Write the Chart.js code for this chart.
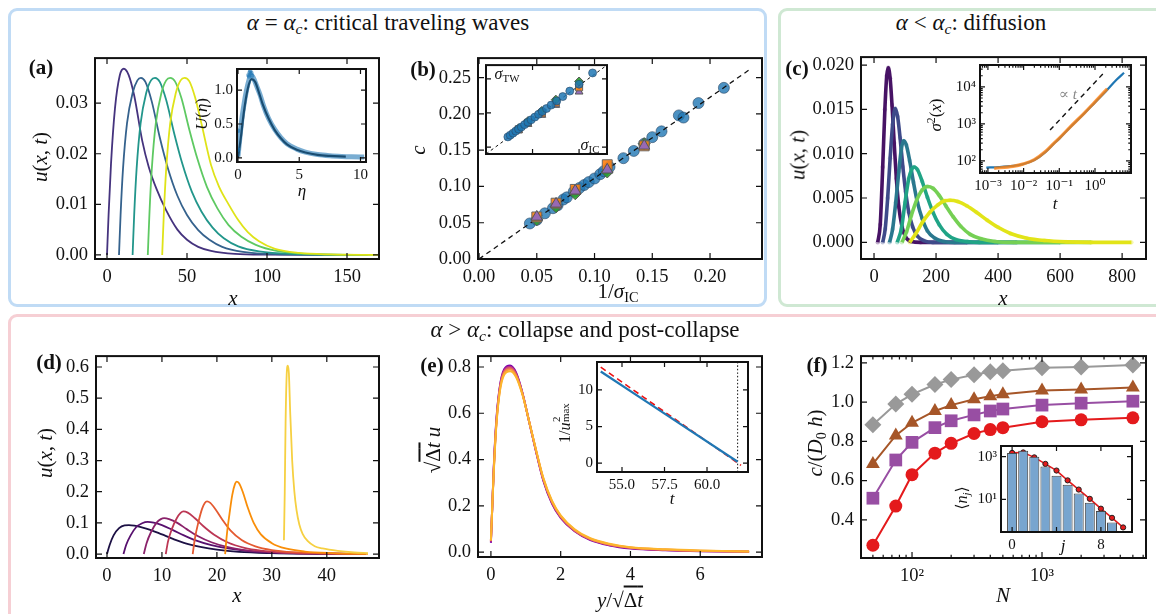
<!DOCTYPE html>
<html>
<head>
<meta charset="utf-8">
<script src="https://cdn.jsdelivr.net/npm/chart.js@4.4.1/dist/chart.umd.min.js"></script>
<style>
body { margin: 0; background: #fff; }
#fig { position: relative; width: 1156px; height: 614px; overflow: hidden; background: #fff;
  font-family: 'Liberation Serif', 'DejaVu Serif', serif; color: #111; }
.box { position: absolute; border: 3px solid; border-radius: 9px; box-sizing: border-box; }
canvas { position: absolute; }
.t { position: absolute; white-space: nowrap; line-height: 1; transform: translate(-50%, -50%); }
.t.r { transform: translate(-50%, -50%) rotate(-90deg); }
.t.b { font-weight: bold; }
sub { font-size: 68%; vertical-align: -0.3em; line-height: 0; }
sup { font-size: 68%; vertical-align: 0.45em; line-height: 0; }
.ss { position: relative; display: inline-block; width: 1.6em; height: 1em; }
.ss .u { position: absolute; left: 0.05em; top: -0.3em; font-size: 68%; }
.ss .d { position: absolute; left: 0.05em; top: 0.55em; font-size: 68%; }
.ov { text-decoration: overline; }
</style>
</head>
<body>
<div id="fig">
  <div class="box" style="left:8px;top:8px;width:759px;height:299px;border-color:#c0dbf5"></div>
  <div class="box" style="left:778px;top:8px;width:400px;height:299px;border-color:#cfe8d3"></div>
  <div class="box" style="left:8px;top:314px;width:1170px;height:330px;border-color:#f6cfd4"></div>
</div>
<script>
// ---- (a) critical traveling waves
const aColors = ['#45337e', '#35628d', '#22968b', '#5ec962', '#dfe318'];
const aCurves = [
  [[0,0],[1,0.008],[2.5,0.018],[5,0.029],[8,0.0355],[10.5,0.0368],[13.5,0.0356],[17,0.0315],[22,0.0226],[26,0.0175],[31,0.013],[37,0.0088],[44,0.005],[50,0.003],[57,0.0016],[65,0.0008],[80,0.0002],[100,0.00005],[155,0]],
  [[7.5,0],[8.5,0.008],[10,0.017],[12.5,0.026],[16,0.032],[19,0.0345],[21.2,0.035],[24,0.0342],[28,0.0303],[33,0.0232],[38,0.0172],[44,0.0117],[50,0.0079],[57,0.0049],[64,0.003],[72,0.0016],[85,0.0006],[105,0.00015],[160,0]],
  [[16,0],[17,0.008],[18.5,0.017],[21,0.026],[24.5,0.032],[27.5,0.0345],[30,0.035],[33,0.0342],[37,0.0306],[42,0.024],[47,0.0181],[53,0.0125],[59,0.0086],[66,0.0054],[73,0.0033],[82,0.0017],[95,0.0007],[115,0.0002],[163,0]],
  [[25.5,0],[26.5,0.008],[28,0.017],[30.5,0.026],[34,0.032],[37,0.0345],[39.5,0.035],[42.5,0.0343],[46.5,0.031],[51.5,0.0247],[56.5,0.019],[62.5,0.0134],[69,0.0092],[76,0.0059],[84,0.0036],[93,0.002],[106,0.0008],[125,0.0002],[167,0]],
  [[34.5,0],[35.5,0.008],[37,0.017],[39.5,0.026],[43,0.032],[46,0.0345],[48.5,0.035],[51.5,0.0343],[55,0.0312],[59,0.026],[65,0.0178],[70,0.0135],[76,0.01],[82,0.0069],[88,0.0045],[95,0.0027],[105,0.0012],[120,0.0004],[140,0.0001],[170,0]]
];
const aXTicks = [0, 50, 100, 150];
const aYTicks = [0, 0.01, 0.02, 0.03];
const aInsetFit = [[0,0],[0.2,0.25],[0.5,0.7],[0.8,1.02],[1.1,1.16],[1.4,1.12],[1.7,0.97],[2.0,0.8],[2.5,0.58],[3.0,0.41],[3.5,0.29],[4.0,0.2],[4.8,0.12],[5.5,0.08],[6.5,0.045],[7.5,0.03],[8.8,0.02]];
const aInsetData = [[0,0.02],[0.1,0.2],[0.3,0.55],[0.5,0.8],[0.7,1.0],[0.9,1.15],[1.05,1.22],[1.25,1.18],[1.5,1.07],[1.8,0.93],[2.1,0.76],[2.5,0.58],[3.0,0.42],[3.5,0.3],[4.0,0.21],[4.8,0.13],[5.5,0.085],[6.5,0.05],[7.5,0.032],[8.5,0.022],[9.3,0.017],[10.3,0.013]];
const aInsetNoise = [[0.02,0.12],[0.03,0.4],[0.85,1.22],[0.95,1.26],[1.0,1.28],[1.1,1.25],[1.15,1.21],[0.9,1.2]];
const aInsetXTicks = [0, 5, 10];
const aInsetYTicks = [0, 0.5, 1.0];

// ---- (b) speed vs 1/sigma_IC
const bCircles = [[0.044,0.049],[0.050,0.054],[0.057,0.063],[0.064,0.070],[0.068,0.074],[0.073,0.082],[0.076,0.085],[0.082,0.093],[0.087,0.098],[0.091,0.102],[0.095,0.106],[0.100,0.111],[0.105,0.117],[0.108,0.121],[0.113,0.127],[0.125,0.139],[0.134,0.149],[0.143,0.159],[0.150,0.168],[0.158,0.176],[0.173,0.198],[0.177,0.195],[0.190,0.215],[0.212,0.236]];
const bSquares = [[0.05,0.058],[0.0667,0.077],[0.0833,0.096],[0.111,0.130],[0.143,0.156]];
const bDiamonds = [[0.05,0.054],[0.0667,0.072],[0.0833,0.090],[0.111,0.120],[0.143,0.159]];
const bTriangles = [[0.05,0.058],[0.0667,0.076],[0.0833,0.094],[0.111,0.123],[0.143,0.156]];
const bGuide = [[0,0],[0.235,0.262]];
const bXTicks = [0, 0.05, 0.10, 0.15, 0.20];
const bYTicks = [0, 0.05, 0.10, 0.15, 0.20, 0.25];
const bInsetCircles = [[4.7,5.0],[5.2,5.5],[5.8,6.1],[6.4,6.7],[7.0,7.3],[7.6,7.9],[8.3,8.6],[9.0,9.3],[9.7,10.0],[10.5,10.8],[11.3,11.6],[12.1,12.4],[13.0,13.3],[14.0,14.3],[15.2,15.5],[16.5,16.8],[18.0,18.4],[20.0,20.4],[22.9,23.7]];
const bInsetDiamonds = [[7,7.5],[9,9.6],[12,12.6],[15,15.9],[20,21.2]];
const bInsetSquares = [[7,7.2],[9,9.1],[12,11.9],[15,15.0],[20,19.5]];
const bInsetTriangles = [[7,6.9],[9,8.7],[12,11.4],[15,14.3],[20,18.2]];
const bInsetGuide = [[0,0],[26,26]];
const bInsetXTicks = [0, 10, 20];
const bInsetYTicks = [2, 12, 22];

// ---- (c) diffusion
const cColors = ['#471365', '#3e4a89', '#2a788e', '#20a486', '#75d054', '#e2e418'];
const cCurves = [
  [[12,0],[20,0.002],[28,0.0085],[35,0.015],[41,0.0188],[46,0.0197],[52,0.0185],[58,0.0155],[65,0.0112],[72,0.0072],[80,0.004],[90,0.0018],[102,0.0006],[120,0.0001],[150,0],[300,0]],
  [[28,0],[36,0.0015],[44,0.005],[52,0.0095],[60,0.0133],[68,0.0151],[76,0.0142],[84,0.0118],[93,0.0085],[102,0.0057],[112,0.0034],[125,0.0017],[140,0.0007],[160,0.0002],[190,0],[400,0]],
  [[50,0],[60,0.0015],[70,0.0045],[80,0.008],[88,0.0105],[95,0.01145],[104,0.011],[115,0.0092],[127,0.0068],[140,0.0045],[155,0.0027],[172,0.0013],[195,0.0005],[225,0.0001],[260,0],[460,0]],
  [[75,0],[88,0.0015],[100,0.0045],[112,0.0072],[121,0.0082],[129,0.0085],[140,0.0082],[155,0.0069],[172,0.0051],[190,0.0034],[210,0.002],[235,0.0009],[265,0.0003],[300,0.0001],[340,0],[600,0]],
  [[90,0],[105,0.0012],[120,0.003],[138,0.0048],[155,0.0059],[172,0.0063],[190,0.0061],[210,0.0053],[232,0.0041],[255,0.0029],[280,0.0018],[310,0.0009],[345,0.0004],[390,0.0001],[450,0],[700,0]],
  [[115,0],[135,0.001],[155,0.0022],[180,0.0034],[205,0.0042],[228,0.0047],[245,0.00475],[270,0.0046],[300,0.0041],[330,0.0034],[365,0.0025],[400,0.0017],[440,0.001],[490,0.0005],[550,0.0002],[620,0.00005],[700,0],[830,0]]
];
const cXTicks = [0, 200, 400, 600, 800];
const cYTicks = [0, 0.005, 0.010, 0.015, 0.020];
const cInsetBlue = [[0.0009,66],[0.002,68],[0.005,73],[0.01,82],[0.02,105],[0.04,170],[0.07,290],[0.1,400],[0.2,800],[0.5,1900],[1,3800],[2,7500],[4,15500],[6.5,24000]];
const cInsetOrange = [[0.0015,63],[0.005,71],[0.01,83],[0.02,108],[0.04,176],[0.07,298],[0.1,412],[0.2,820],[0.5,1960],[1,3950],[2.2,8800]];
const cInsetGuide = [[0.055,680],[1.9,25700]];
const cInsetXTicks = [1e-3, 1e-2, 1e-1, 1, 10];
const cInsetXLabels = ['10\u207B\u00B3', '10\u207B\u00B2', '10\u207B\u00B9', '10\u2070', ''];
const cInsetYTicks = [1e2, 1e3, 1e4];
const cInsetYLabels = ['10\u00B2', '10\u00B3', '10\u2074'];

// ---- (d) collapse
const dColors = ['#1c1044', '#57106e', '#8a226a', '#bc3754', '#e45a31', '#f98e09', '#f6d042'];
const dCurves = [
  [[0,0],[0.5,0.03],[1.2,0.06],[2.2,0.083],[3.2,0.092],[4,0.093],[5,0.091],[6.5,0.085],[8,0.077],[10,0.063],[12,0.049],[14,0.036],[17,0.023],[20,0.014],[24,0.007],[30,0.003],[38,0.001],[47,0]],
  [[3,0],[3.5,0.03],[4.3,0.06],[5.3,0.086],[6.4,0.099],[7.4,0.1035],[8.5,0.101],[10,0.093],[12,0.077],[14,0.06],[16,0.045],[19,0.029],[22,0.018],[26,0.009],[31,0.004],[38,0.0015],[47,0]],
  [[6.7,0],[7.2,0.035],[8,0.07],[9,0.1],[9.8,0.112],[10.4,0.115],[11.3,0.112],[12.8,0.1],[14.5,0.08],[16.5,0.058],[19,0.038],[22,0.022],[25,0.013],[29,0.007],[34,0.003],[40,0.001],[47,0]],
  [[10.7,0],[11.1,0.04],[11.8,0.08],[12.7,0.115],[13.4,0.132],[13.9,0.137],[14.7,0.133],[16,0.115],[17.5,0.09],[19.5,0.062],[22,0.037],[25,0.02],[28,0.011],[32,0.005],[38,0.002],[47,0]],
  [[15.6,0],[16,0.05],[16.6,0.1],[17.3,0.145],[17.8,0.164],[18.2,0.169],[18.8,0.164],[19.8,0.142],[21,0.11],[22.5,0.075],[24.5,0.045],[27,0.025],[30,0.013],[34,0.006],[40,0.002],[47,0]],
  [[21.5,0],[21.8,0.06],[22.3,0.13],[22.8,0.19],[23.3,0.225],[23.6,0.2325],[24,0.228],[24.7,0.2],[25.6,0.15],[26.7,0.1],[28,0.063],[30,0.035],[32.5,0.018],[36,0.008],[41,0.003],[47.5,0.0005]],
  [[32.2,0.044],[32.35,0.2],[32.5,0.42],[32.7,0.575],[32.9,0.604],[33.1,0.58],[33.35,0.45],[33.7,0.3],[34.1,0.2],[34.5,0.14],[35,0.095],[35.6,0.065],[36.5,0.042],[37.8,0.025],[39.2,0.018],[42,0.01],[45,0.005],[47.5,0.003]]
];
const dXTicks = [0, 10, 20, 30, 40];
const dYTicks = [0, 0.1, 0.2, 0.3, 0.4, 0.5, 0.6];

// ---- (e) rescaled profiles
const eColors = ['#7e03a8', '#b52f8c', '#de5f65', '#f89540', '#fdb52c'];
const eCurves = [
  [[0,0.04],[0.04,0.2],[0.08,0.36],[0.15,0.56],[0.25,0.71],[0.38,0.79],[0.55,0.806],[0.72,0.776],[0.9,0.69],[1.1,0.56],[1.3,0.43],[1.5,0.31],[1.75,0.21],[2,0.148],[2.4,0.09],[2.85,0.052],[3.4,0.029],[4,0.016],[5,0.008],[6,0.004],[7.4,0.002]],
  [[0,0.045],[0.04,0.2],[0.08,0.355],[0.15,0.55],[0.25,0.705],[0.38,0.785],[0.55,0.801],[0.72,0.772],[0.9,0.69],[1.1,0.561],[1.3,0.432],[1.5,0.313],[1.75,0.213],[2,0.15],[2.4,0.092],[2.85,0.054],[3.4,0.031],[4,0.018],[5,0.009],[6,0.005],[7.4,0.002]],
  [[0,0.05],[0.04,0.2],[0.08,0.35],[0.15,0.545],[0.25,0.7],[0.38,0.78],[0.55,0.796],[0.72,0.768],[0.9,0.688],[1.1,0.562],[1.3,0.434],[1.5,0.316],[1.75,0.216],[2,0.153],[2.4,0.094],[2.85,0.056],[3.4,0.032],[4,0.019],[5,0.01],[6,0.005],[7.4,0.002]],
  [[0,0.05],[0.04,0.2],[0.08,0.345],[0.15,0.54],[0.25,0.694],[0.38,0.773],[0.55,0.789],[0.72,0.762],[0.9,0.685],[1.1,0.562],[1.3,0.436],[1.5,0.319],[1.75,0.219],[2,0.156],[2.4,0.096],[2.85,0.058],[3.4,0.034],[4,0.02],[5,0.011],[6,0.006],[7.4,0.003]],
  [[0,0.05],[0.04,0.2],[0.08,0.34],[0.15,0.535],[0.25,0.688],[0.38,0.766],[0.55,0.782],[0.72,0.757],[0.9,0.682],[1.1,0.562],[1.3,0.438],[1.5,0.322],[1.75,0.222],[2,0.159],[2.4,0.099],[2.85,0.06],[3.4,0.036],[4,0.021],[5,0.012],[6,0.007],[7.4,0.003]]
];
const eXTicks = [0, 2, 4, 6];
const eYTicks = [0, 0.2, 0.4, 0.6, 0.8];
const eInsetData = [[53.75,12.5],[61.8,0.2]];
const eInsetFit = [[53.75,13.1],[62.0,-0.3]];
const eInsetBlowup = [[61.8,-1.2],[61.8,13.8]];
const eInsetXTicks = [55.0, 57.5, 60.0];
const eInsetYTicks = [0, 5, 10];

// ---- (f) front speed vs N
const fN = [50, 75, 100, 150, 200, 300, 400, 500, 1000, 2000, 5000];
const fGray = [0.885, 0.99, 1.04, 1.09, 1.115, 1.14, 1.155, 1.16, 1.175, 1.18, 1.19];
const fBrown = [0.685, 0.83, 0.895, 0.955, 0.985, 1.015, 1.03, 1.04, 1.06, 1.065, 1.075];
const fPurple = [0.51, 0.705, 0.795, 0.87, 0.905, 0.935, 0.955, 0.965, 0.985, 0.995, 1.005];
const fRed = [0.27, 0.47, 0.63, 0.74, 0.79, 0.84, 0.86, 0.87, 0.9, 0.91, 0.92];
const fXTicks = [100, 1000];
const fXLabels = ['10\u00B2', '10\u00B3'];
const fYTicks = [0.4, 0.6, 0.8, 1.0, 1.2];
const fJ = [0, 1, 2, 3, 4, 5, 6, 7, 8, 9];
const fCounts = [1500, 1900, 1000, 350, 130, 49, 19, 7, 2.9, 0.83];
const fJFit = [0, 1, 2, 3, 4, 5, 6, 7, 8, 9, 10];
const fCountsFit = [1510, 1580, 930, 460, 225, 78, 29, 10.7, 3.7, 1.38, 0.49];
const fInsetXTicks = [0, 4, 8];
const fInsetXLabels = ['0', '', '8'];
const fInsetYTicks = [10, 1000];
const fInsetYLabels = ['10\u00B9', '10\u00B3'];

// ---------------------------------------------------------------
const fig = document.getElementById('fig');
const SERIF = "'Liberation Serif','DejaVu Serif',serif";
Chart.defaults.font.family = SERIF;
Chart.defaults.color = '#111';

const pts = a => a.map(p => ({x: p[0], y: p[1]}));
const xy = (xs, ys) => xs.map((x, i) => [x, ys[i]]);
const minorLog = (lo, hi) => {
  const out = [];
  for (let e = lo; e <= hi; e++) for (let k = 2; k <= 9; k++) out.push(k * Math.pow(10, e));
  return out;
};

function axis(o) {
  return {
    type: o.type || 'linear', min: o.min, max: o.max, offset: false,
    grid: {display: false, drawTicks: false, tickLength: 0}, border: {display: false},
    afterBuildTicks: s => { s.ticks = o.ticks.map(v => ({value: v})); },
    ticks: {
      autoSkip: false, maxRotation: 0, minRotation: 0, padding: o.pad || 7,
      font: {size: o.size || 18.5}, color: '#111',
      callback: (v, i) => o.labels ? o.labels[i] : v.toFixed(o.dec)
    }
  };
}

const frame = {
  id: 'frame',
  beforeDraw(ch, args, o) {
    if (!o.fill) return;
    const c = ch.ctx, r = ch.chartArea;
    c.save(); c.fillStyle = '#fff'; c.fillRect(r.left, r.top, r.width, r.height); c.restore();
  },
  afterDraw(ch, args, o) {
    const c = ch.ctx, r = ch.chartArea, sx = ch.scales.x, sy = ch.scales.y;
    c.save();
    c.strokeStyle = '#111';
    c.lineWidth = 1.2;
    c.beginPath();
    const mark = (vals, len, sc, hor) => vals.forEach(v => {
      const p = sc.getPixelForValue(v);
      if (hor) {
        if (p < r.left - 0.5 || p > r.right + 0.5) return;
        c.moveTo(p, r.bottom); c.lineTo(p, r.bottom - len);
        c.moveTo(p, r.top); c.lineTo(p, r.top + len);
      } else {
        if (p < r.top - 0.5 || p > r.bottom + 0.5) return;
        c.moveTo(r.left, p); c.lineTo(r.left + len, p);
        c.moveTo(r.right, p); c.lineTo(r.right - len, p);
      }
    });
    const L = o.len || 6;
    mark(o.xt || [], L, sx, true); mark(o.xm || [], L * 0.55, sx, true);
    mark(o.yt || [], L, sy, false); mark(o.ym || [], L * 0.55, sy, false);
    c.stroke();
    c.lineWidth = o.lw || 2;
    c.strokeRect(r.left, r.top, r.width, r.height);
    c.restore();
  }
};

function plot(box, pad, type, datasets, sx, sy, fr) {
  const l = box[0], t = box[1], r = box[2], b = box[3];
  const pl = pad[0], pb = pad[1], pt = 14, pr = 14;
  const cv = document.createElement('canvas');
  const w = r - l + pl + pr, h = b - t + pt + pb;
  cv.width = w; cv.height = h;
  cv.style.left = (l - pl) + 'px'; cv.style.top = (t - pt) + 'px';
  cv.style.width = w + 'px'; cv.style.height = h + 'px';
  fig.appendChild(cv);
  sx.position = 'bottom'; sy.position = 'left';
  sx.afterFit = s => { s.height = pb; };
  sy.afterFit = s => { s.width = pl; };
  datasets.forEach((d, i) => { if (d.order === undefined) d.order = -i; });
  return new Chart(cv, {
    type: type,
    data: {datasets: datasets},
    plugins: [frame],
    options: {
      responsive: false, animation: false, devicePixelRatio: 1,
      layout: {padding: {left: 0, top: pt, right: pr, bottom: 0}},
      scales: {x: sx, y: sy},
      plugins: {legend: {display: false}, tooltip: {enabled: false}, frame: fr},
      elements: {point: {radius: 0}, line: {cubicInterpolationMode: 'monotone'}}
    }
  });
}

const line = (data, color, w, extra) => Object.assign({
  type: 'line', data: pts(data), borderColor: color, backgroundColor: color,
  borderWidth: w, pointRadius: 0, fill: false
}, extra || {});
const marks = (data, style, r, fillc, edge) => ({
  type: 'line', data: pts(data), showLine: false, pointStyle: style, pointRadius: r,
  pointBackgroundColor: fillc, pointBorderColor: edge, pointBorderWidth: 1
});

// (a)
plot([95, 54, 379, 259], [75, 36], 'line',
  aCurves.map((c, i) => line(c, aColors[i], 1.8)),
  axis({min: -7.5, max: 170, ticks: aXTicks, dec: 0}),
  axis({min: -0.0008, max: 0.0389, ticks: aYTicks, dec: 2}),
  {xt: aXTicks, yt: aYTicks});
// (b)
plot([478, 54, 762, 259], [75, 36], 'line', [
    marks(bCircles, 'circle', 5.5, 'rgba(31,119,180,0.8)', 'rgba(40,70,100,0.6)'),
    line(bGuide, '#111', 1.3, {borderDash: [5, 4]}),
    marks(bDiamonds, 'rectRot', 6, 'rgba(44,160,44,0.9)', '#555'),
    marks(bSquares, 'rect', 7, 'rgba(255,127,14,0.9)', '#666'),
    marks(bTriangles, 'triangle', 6.5, 'rgba(148,103,189,0.95)', '#555')
  ],
  axis({min: -0.0009, max: 0.245, ticks: bXTicks, dec: 2}),
  axis({min: 0, max: 0.277, ticks: bYTicks, dec: 2}),
  {xt: bXTicks, yt: bYTicks});
// (c)
plot([861, 53, 1146, 259], [75, 36], 'line',
  cCurves.map((c, i) => line(c, cColors[i], 3.6, {pointRadius: 2.2, pointBackgroundColor: cColors[i] + '55', pointBorderWidth: 0})),
  axis({min: -42, max: 877, ticks: cXTicks, dec: 0}),
  axis({min: -0.00188, max: 0.0209, ticks: cYTicks, dec: 3}),
  {xt: cXTicks, yt: cYTicks});
// (d)
plot([96, 352, 379, 558], [75, 36], 'line',
  dCurves.map((c, i) => line(c, dColors[i], 1.8)),
  axis({min: -2, max: 49.5, ticks: dXTicks, dec: 0}),
  axis({min: -0.0126, max: 0.635, ticks: dYTicks, dec: 1}),
  {xt: dXTicks, yt: dYTicks});
// (e)
plot([478, 352, 762, 557], [75, 36], 'line',
  eCurves.map((c, i) => line(c, eColors[i], 2)),
  axis({min: -0.37, max: 7.77, ticks: eXTicks, dec: 0}),
  axis({min: -0.021, max: 0.847, ticks: eYTicks, dec: 1}),
  {xt: eXTicks, yt: eYTicks});
// (f)
plot([861, 352, 1146, 558], [75, 36], 'line', [
    line(xy(fN, fRed), '#e41a1c', 2, {pointRadius: 6.5, pointStyle: 'circle', pointBorderWidth: 0}),
    line(xy(fN, fPurple), '#984ea3', 2, {pointRadius: 9, pointStyle: 'rect', pointBorderWidth: 0}),
    line(xy(fN, fBrown), '#a65628', 2, {pointRadius: 8, pointStyle: 'triangle', pointBorderWidth: 0}),
    line(xy(fN, fGray), '#999999', 2, {pointRadius: 8.5, pointStyle: 'rectRot', pointBorderWidth: 0})
  ].map(d => Object.assign(d, {cubicInterpolationMode: 'default', tension: 0})),
  axis({type: 'logarithmic', min: 40.5, max: 6310, ticks: fXTicks, labels: fXLabels}),
  axis({min: 0.205, max: 1.235, ticks: fYTicks, dec: 1}),
  {xt: fXTicks, xm: minorLog(1, 3), yt: fYTicks});

// insets
plot([237, 69, 366, 162], [40, 24], 'line', [
    line(aInsetFit, '#111', 2.2),
    marks(aInsetNoise, 'circle', 2.2, 'rgba(31,119,180,0.6)', 'rgba(31,119,180,0)'),
    line(aInsetData, 'rgba(31,119,180,0.6)', 5)
  ],
  axis({min: -0.08, max: 10.45, ticks: aInsetXTicks, dec: 0, size: 15, pad: 4}),
  axis({min: -0.06, max: 1.31, ticks: aInsetYTicks, dec: 1, size: 15, pad: 4}),
  {xt: aInsetXTicks, yt: aInsetYTicks, fill: true, len: 5});
plot([486, 61, 607, 154], [30, 20], 'line', [
    marks(bInsetTriangles, 'triangle', 4.5, 'rgba(148,103,189,0.95)', '#555'),
    marks(bInsetSquares, 'rect', 5, 'rgba(255,127,14,0.9)', '#666'),
    marks(bInsetDiamonds, 'rectRot', 4.5, 'rgba(44,160,44,0.9)', '#555'),
    line(bInsetGuide, '#111', 1, {borderDash: [3, 3]}),
    marks(bInsetCircles, 'circle', 4, 'rgba(31,119,180,0.85)', 'rgba(40,70,100,0.6)')
  ],
  axis({min: 0, max: 26, ticks: bInsetXTicks, labels: ['', '', '']}),
  axis({min: 0, max: 26, ticks: bInsetYTicks, labels: ['', '', '']}),
  {xt: bInsetXTicks, yt: bInsetYTicks, fill: true, len: 5});
plot([980, 65, 1131, 173], [40, 24], 'line', [
    line(cInsetGuide, '#111', 1.4, {borderDash: [5, 4], cubicInterpolationMode: 'default'}),
    line(cInsetBlue, '#1f77b4', 2.2),
    line(cInsetOrange, 'rgba(255,127,14,0.8)', 3.2)
  ],
  axis({type: 'logarithmic', min: 6e-4, max: 10.2, ticks: cInsetXTicks, labels: cInsetXLabels, size: 15, pad: 4}),
  axis({type: 'logarithmic', min: 47, max: 39000, ticks: cInsetYTicks, labels: cInsetYLabels, size: 15, pad: 4}),
  {xt: cInsetXTicks, xm: minorLog(-4, 1), yt: cInsetYTicks, ym: minorLog(1, 4), fill: true, len: 5});
plot([597, 362, 748, 472], [40, 24], 'line', [
    line(eInsetBlowup, '#111', 1, {borderDash: [1.5, 2]}),
    line(eInsetFit, '#ee1111', 1.6, {borderDash: [6, 4]}),
    line(eInsetData, '#1f77b4', 2.2)
  ],
  axis({min: 53.53, max: 62.41, ticks: eInsetXTicks, dec: 1, size: 15, pad: 4}),
  axis({min: -1.2, max: 13.8, ticks: eInsetYTicks, dec: 0, size: 15, pad: 4}),
  {xt: eInsetXTicks, yt: eInsetYTicks, fill: true, len: 5});
plot([1001, 446, 1132, 532], [40, 24], 'bar', [
    line(xy(fJFit, fCountsFit), '#e41a1c', 1.6,
      {pointRadius: 2.6, pointBackgroundColor: '#e41a1c', pointBorderColor: '#222', pointBorderWidth: 1, cubicInterpolationMode: 'default'}),
    {type: 'bar', data: pts(xy(fJ, fCounts)), backgroundColor: '#78a5cf', borderColor: '#444', borderWidth: 1,
      barPercentage: 0.9, categoryPercentage: 1}
  ],
  axis({min: -1, max: 10.8, ticks: fInsetXTicks, labels: fInsetXLabels, size: 15, pad: 4}),
  axis({type: 'logarithmic', min: 0.32, max: 3160, ticks: fInsetYTicks, labels: fInsetYLabels, size: 15, pad: 4}),
  {xt: fInsetXTicks, yt: fInsetYTicks, fill: true, len: 5});

// text
function T(x, y, html, size, cls, color) {
  const d = document.createElement('div');
  d.className = 't ' + (cls || '');
  d.style.left = x + 'px'; d.style.top = y + 'px';
  d.style.fontSize = (size || 20) + 'px';
  if (color) d.style.color = color;
  d.innerHTML = html;
  fig.appendChild(d);
}
T(388, 22, '<i>α</i> = <i>α<sub>c</sub></i>: critical traveling waves', 23);
T(971, 22, '<i>α</i> &lt; <i>α<sub>c</sub></i>: diffusion', 23);
T(585, 329, '<i>α</i> &gt; <i>α<sub>c</sub></i>: collapse and post-collapse', 23);
T(41, 67, '(a)', 21, 'b'); T(423, 69, '(b)', 21, 'b'); T(797, 68, '(c)', 21, 'b');
T(49, 362, '(d)', 21, 'b'); T(432, 365, '(e)', 21, 'b'); T(817, 365, '(f)', 21, 'b');
T(233, 298, '<i>x</i>', 21); T(40, 157, '<i>u</i>(<i>x</i>, <i>t</i>)', 21, 'r');
T(201, 114, '<i>U</i>(<i>η</i>)', 17, 'r'); T(302, 190, '<i>η</i>', 17);
T(618, 291, '1/<i>σ</i><sub>IC</sub>', 21); T(418, 150, '<i>c</i>', 21, 'r');
T(507, 74, '<i>σ</i><sub>TW</sub>', 16); T(590, 145, '<i>σ</i><sub>IC</sub>', 16);
T(1003, 298, '<i>x</i>', 21); T(798, 155, '<i>u</i>(<i>x</i>, <i>t</i>)', 21, 'r');
T(935, 115, '<i>σ</i><sup>2</sup>(<i>x</i>)', 17, 'r'); T(1055, 203, '<i>t</i>', 17);
T(1068, 94, '∝ <i>t</i>', 15, '', '#888');
T(237, 595, '<i>x</i>', 21); T(45, 453, '<i>u</i>(<i>x</i>, <i>t</i>)', 21, 'r');
T(620, 600, '<i>y</i>/√<span class="ov">Δ<i>t</i></span>', 21);
T(433, 450, '√<span class="ov">Δ<i>t</i></span> <i>u</i>', 21, 'r');
T(563, 420, '1/<i>u</i><span class="ss"><span class="u">2</span><span class="d">max</span></span>', 16, 'r');
T(672, 498, '<i>t</i>', 17);
T(1003, 595, '<i>N</i>', 21); T(815, 443, '<i>c</i>/(<i>D</i><sub>0</sub> <i>h</i>)', 21, 'r');
T(962, 498, '⟨<i>n<sub>j</sub></i>⟩', 16, 'r'); T(1063, 545, '<i>j</i>', 17);
</script>
</body>
</html>
